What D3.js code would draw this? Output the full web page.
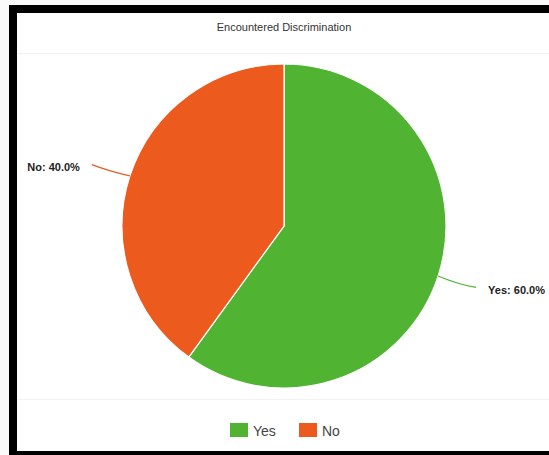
<!DOCTYPE html>
<html>
<head>
<meta charset="utf-8">
<script src="https://cdn.jsdelivr.net/npm/d3@7"></script>
<style>
  html, body { margin: 0; padding: 0; background: #fafafa; }
  svg { display: block; font-family: "Liberation Sans", Arial, Helvetica, sans-serif; }
</style>
</head>
<body>
<svg id="chart" width="549" height="455"></svg>
<script>
// Survey answers
const categories = ["Yes", "No"];
const values = [60, 40];
const colors = ["#50b332", "#ec5a1e"];
const title = "Encountered Discrimination";

const W = 549, H = 455;
const svg = d3.select("#chart");

// Frame around the card
svg.append("rect").attr("x", 9).attr("y", 5).attr("width", W - 9).attr("height", H - 5).attr("fill", "#000");
svg.append("rect").attr("x", 17).attr("y", 13).attr("width", W - 17).attr("height", 438).attr("fill", "#fff");

// Title
svg.append("text")
  .attr("x", 284).attr("y", 31)
  .attr("text-anchor", "middle")
  .attr("font-size", 11)
  .attr("fill", "#333")
  .text(title);

// Faint separators around the plot area
svg.append("line").attr("x1", 17).attr("x2", W).attr("y1", 53.5).attr("y2", 53.5)
  .attr("stroke", "#f3f3f3").attr("stroke-width", 1);
svg.append("line").attr("x1", 17).attr("x2", W).attr("y1", 399.5).attr("y2", 399.5)
  .attr("stroke", "#f3f3f3").attr("stroke-width", 1);

const cx = 284, cy = 226, r = 162;
const color = d3.scaleOrdinal().domain(categories).range(colors);

const pie = d3.pie().sort(null).value(d => d.value);
const data = categories.map((c, i) => ({ name: c, value: values[i] }));
const arcs = pie(data);
const total = d3.sum(values);

const arc = d3.arc().innerRadius(0).outerRadius(r);
const g = svg.append("g").attr("transform", `translate(${cx},${cy})`);

g.selectAll("path.slice")
  .data(arcs)
  .join("path")
  .attr("class", "slice")
  .attr("d", arc)
  .attr("fill", d => color(d.data.name))
  .attr("stroke", "#fff")
  .attr("stroke-width", 1.2);

// Leader lines (slightly curved, running outward) and labels
arcs.forEach(d => {
  const a = (d.startAngle + d.endAngle) / 2;
  const sx = Math.sin(a), sy = -Math.cos(a);
  const side = sx >= 0 ? 1 : -1;
  const p0 = [r * sx, r * sy];
  const c1 = [(r + 22) * sx, (r + 22) * sy + 2];
  const p2 = [(r + 40) * sx, (r + 40) * sy - (sy > 0 ? 1 : -1)];
  const path = d3.path();
  path.moveTo(p0[0], p0[1]);
  path.quadraticCurveTo(c1[0], c1[1], p2[0], p2[1]);
  g.append("path")
    .attr("d", path.toString())
    .attr("fill", "none")
    .attr("stroke", color(d.data.name))
    .attr("stroke-width", 1.2);
  const pct = (d.data.value / total * 100).toFixed(1);
  g.append("text")
    .attr("x", p2[0] + side * 12)
    .attr("y", p2[1] + 6.5)
    .attr("text-anchor", side > 0 ? "start" : "end")
    .attr("font-size", 11)
    .attr("font-weight", "bold")
    .attr("fill", "#222")
    .text(`${d.data.name}: ${pct}%`);
});

// Legend
const legend = svg.append("g");
const legendX = d3.scalePoint().domain(categories).range([230, 299]);
const item = legend.selectAll("g").data(categories).join("g")
  .attr("transform", c => `translate(${legendX(c)},423)`);
item.append("rect")
  .attr("width", 18).attr("height", 14)
  .attr("fill", c => color(c));
item.append("text")
  .attr("x", 23).attr("y", 12.5)
  .attr("font-size", 14)
  .attr("fill", "#444")
  .text(c => c);
</script>
</body>
</html>
